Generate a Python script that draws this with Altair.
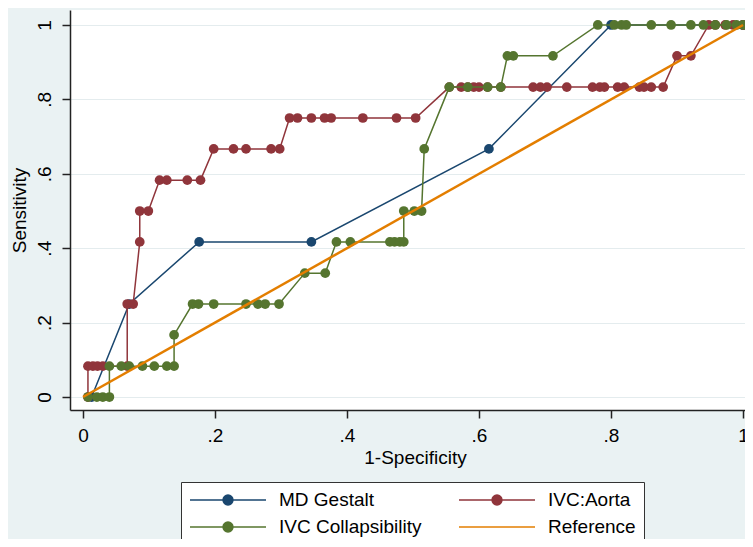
import altair as alt
import pandas as pd

# ---------------- data ----------------
series_names = ["MD Gestalt", "IVC:Aorta", "IVC Collapsibility", "Reference"]
series_colors = ["#1a476f", "#90353b", "#55752f", "#e37e00"]

md_x = [0.013, 0.070, 0.176, 0.346, 0.615, 0.800, 1.000]
md_y = [0.000, 0.250, 0.417, 0.417, 0.667, 1.000, 1.000]

aorta_x = [0.0075, 0.0075, 0.015, 0.022, 0.030, 0.067, 0.067, 0.076, 0.086, 0.086,
           0.099, 0.116, 0.127, 0.158, 0.178, 0.198, 0.228, 0.247, 0.285, 0.298,
           0.313, 0.325, 0.346, 0.366, 0.376, 0.424, 0.475, 0.504, 0.555, 0.573,
           0.583, 0.592, 0.600, 0.613, 0.633, 0.682, 0.693, 0.703, 0.733, 0.772,
           0.783, 0.790, 0.810, 0.820, 0.843, 0.850, 0.861, 0.879, 0.900, 0.921,
           0.948, 0.958, 0.973, 0.985, 1.000]
aorta_y = [0.000, 0.083, 0.083, 0.083, 0.083, 0.083, 0.250, 0.250, 0.417, 0.500,
           0.500, 0.583, 0.583, 0.583, 0.583, 0.667, 0.667, 0.667, 0.667, 0.667,
           0.750, 0.750, 0.750, 0.750, 0.750, 0.750, 0.750, 0.750, 0.833, 0.833,
           0.833, 0.833, 0.833, 0.833, 0.833, 0.833, 0.833, 0.833, 0.833, 0.833,
           0.833, 0.833, 0.833, 0.833, 0.833, 0.833, 0.833, 0.833, 0.917, 0.917,
           1.000, 1.000, 1.000, 1.000, 1.000]

coll_x = [0.0075, 0.021, 0.030, 0.040, 0.040, 0.058, 0.070, 0.090, 0.108, 0.127,
          0.138, 0.138, 0.166, 0.175, 0.198, 0.247, 0.265, 0.276, 0.297, 0.336,
          0.367, 0.384, 0.405, 0.465, 0.472, 0.480, 0.486, 0.486, 0.502, 0.513,
          0.517, 0.555, 0.583, 0.613, 0.633, 0.643, 0.652, 0.712, 0.780, 0.805,
          0.816, 0.823, 0.861, 0.891, 0.921, 0.940, 0.958, 0.975, 0.990, 1.000]
coll_y = [0.000, 0.000, 0.000, 0.000, 0.083, 0.083, 0.083, 0.083, 0.083, 0.083,
          0.083, 0.167, 0.250, 0.250, 0.250, 0.250, 0.250, 0.250, 0.250, 0.333,
          0.333, 0.417, 0.417, 0.417, 0.417, 0.417, 0.417, 0.500, 0.500, 0.500,
          0.667, 0.833, 0.833, 0.833, 0.833, 0.917, 0.917, 0.917, 1.000, 1.000,
          1.000, 1.000, 1.000, 1.000, 1.000, 1.000, 1.000, 1.000, 1.000, 1.000]

ref_x = [0.0, 1.0]
ref_y = [0.0, 1.0]

tick_values = [0, 0.2, 0.4, 0.6, 0.8, 1]

# ---------------- table ----------------
rows = []
for name, xs, ys in [("MD Gestalt", md_x, md_y),
                     ("IVC:Aorta", aorta_x, aorta_y),
                     ("IVC Collapsibility", coll_x, coll_y),
                     ("Reference", ref_x, ref_y)]:
    for i, (xv, yv) in enumerate(zip(xs, ys)):
        rows.append({"series": name, "idx": i, "fpr": xv, "tpr": yv})
df = pd.DataFrame(rows)

FONT = "Liberation Sans"
label_expr = "datum.value == 0 ? '0' : (datum.value == 1 ? '1' : replace(format(datum.value, '.1f'), '0.', '.'))"

dot_path = "M-1,0H1M0.13,0A0.13,0.13,0,1,1,-0.13,0A0.13,0.13,0,1,1,0.13,0Z"


def make_legend(fancy):
    common = dict(
        title=None, orient="none", legendX=111, legendY=472, columns=2,
        direction="horizontal",
        strokeColor="#333333", fillColor="white", padding=8,
        rowPadding=7, columnPadding=36,
        labelFont=FONT, labelFontSize=19, labelColor="black", labelOffset=12,
        labelLimit=400, labelBaseline="middle",
        symbolStrokeWidth=1.5, symbolOpacity=1,
    )
    if fancy:
        return alt.Legend(
            symbolSize=5776,
            symbolType=alt.ExprRef(expr="datum.value === 'Reference' ? 'M-1,0H1' : '" + dot_path + "'"),
            symbolFillColor=alt.ExprRef(expr="scale('color', datum.value)"),
            symbolStrokeColor=alt.ExprRef(expr="scale('color', datum.value)"),
            **common)
    return alt.Legend(symbolSize=120, symbolType="circle", **common)


def build(fancy, note=None):
    color_enc = alt.Color("series:N",
                          scale=alt.Scale(domain=series_names, range=series_colors),
                          legend=make_legend(fancy))
    x_enc = alt.X("fpr:Q",
                  scale=alt.Scale(domain=[-0.0197, 1.0030], nice=False, zero=False),
                  axis=alt.Axis(values=tick_values, labelExpr=label_expr, title="1-Specificity",
                                grid=False, tickSize=8, tickWidth=1.5, tickColor="#222222",
                                domainColor="#222222", domainWidth=1.5,
                                labelFont=FONT, labelFontSize=19, labelColor="black",
                                labelPadding=8, labelFlush=False, labelOverlap=False,
                                titleFont=FONT, titleFontSize=19, titleFontWeight="normal",
                                titleColor="black", titleX=345, titleY=53,
                                titleAlign="center", titleBaseline="alphabetic"))
    y_enc = alt.Y("tpr:Q",
                  scale=alt.Scale(domain=[-0.0349, 1.0403], nice=False, zero=False),
                  axis=alt.Axis(values=tick_values, labelExpr=label_expr, title="Sensitivity",
                                grid=True, gridColor="#e4ecee", gridWidth=1,
                                tickSize=8, tickWidth=1.5, tickColor="#222222",
                                domainColor="#222222", domainWidth=1.5,
                                labelFont=FONT, labelFontSize=19, labelColor="black",
                                labelAngle=270, labelAlign="center", labelBaseline="alphabetic",
                                labelPadding=12, labelFlush=False, labelOverlap=False,
                                titleFont=FONT, titleFontSize=19, titleFontWeight="normal",
                                titleColor="black", titleAngle=270, titleX=-45, titleY=200,
                                titleAlign="center", titleBaseline="alphabetic"))

    base = alt.Chart(df)
    layers = []
    for name in ["MD Gestalt", "IVC:Aorta", "IVC Collapsibility"]:
        sub = base.transform_filter(alt.datum.series == name)
        layers.append(sub.mark_line(strokeWidth=1.5, clip=True).encode(
            x=x_enc, y=y_enc, color=color_enc, order="idx:Q"))
        layers.append(sub.mark_point(filled=True, size=95, opacity=1, clip=True).encode(
            x=x_enc, y=y_enc, color=color_enc))
    layers.append(base.transform_filter(alt.datum.series == "Reference").mark_line(
        strokeWidth=2.5, clip=True).encode(x=x_enc, y=y_enc, color=color_enc, order="idx:Q"))

    props = dict(width=675, height=400,
                 autosize=alt.AutoSizeParams(type="none"),
                 padding={"left": 62, "top": 2, "right": 0, "bottom": 129},
                 background="#eaf2f3")
    if note:
        props["title"] = alt.Title(note[:120], fontSize=10)
    c = alt.layer(*layers).properties(**props).configure_view(fill="white", stroke=None)
    c = c.configure_legend(clipHeight=20) if fancy else c
    return c


try:
    chart = build(True)
    chart.to_dict()
except Exception as e:  # fall back to a plain legend
    chart = build(False, note=str(e).splitlines()[0] if str(e) else repr(e))

chart.save("out.html", embed_options={"renderer": "svg", "actions": False})
